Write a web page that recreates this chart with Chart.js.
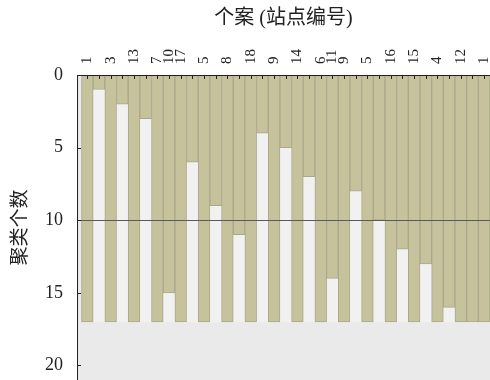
<!DOCTYPE html>
<html>
<head>
<meta charset="utf-8">
<script src="https://cdn.jsdelivr.net/npm/chart.js@4.4.1/dist/chart.umd.min.js"></script>
<style>
  html, body { margin: 0; padding: 0; background: #ffffff; }
  #c { display: block; }
</style>
</head>
<body>
<canvas id="c" width="490" height="380"></canvas>
<script>
// Case labels (station numbers) in dendrogram order, one per case column
const caseLabels = ['1', '3', '13', '7', '17', '5', '8', '18', '9', '14', '6', '9', '5', '16', '15', '4', '12', '1'];
// Labels shown on the gap columns between neighbouring cases
const gapLabels = ['', '', '', '10', '', '', '', '', '', '', '11', '', '', '', '', '', ''];
// Number of clusters down to which each neighbouring pair stays joined
const joinLevels = [1, 2, 3, 15, 6, 9, 11, 4, 5, 7, 14, 8, 10, 12, 13, 16, 17];
// Deepest level of the icicle (number of cases - 1)
const caseDepth = 17;
const yTicks = [0, 5, 10, 15, 20];
const cutLevel = 10;

const serif = "'Liberation Serif', 'Times New Roman', 'Noto Sans CJK SC', serif";
const xLabelSize = 15;

// Interleave case columns and gap columns: case, gap, case, ..., case
const columnLabels = [];
const filledBars = [];
const openBars = [];
caseLabels.forEach((lab, i) => {
  columnLabels.push(lab);
  filledBars.push({ x: 2 * i, y: [0, caseDepth] });
  if (i < joinLevels.length) {
    columnLabels.push(gapLabels[i]);
    filledBars.push({ x: 2 * i + 1, y: [0, joinLevels[i]] });
    openBars.push({ x: 2 * i + 1, y: [joinLevels[i], caseDepth] });
  }
});

// keep the plot area flush with the canvas edges
function fixBox(size) {
  return s => {
    if (s.isHorizontal()) s.height = size; else s.width = size;
    s.paddingLeft = 0; s.paddingRight = 0; s.paddingTop = 0; s.paddingBottom = 0;
  };
}

const plotDecor = {
  id: 'plotDecor',
  beforeDraw(chart) {
    const { ctx, chartArea: a } = chart;
    ctx.save();
    ctx.fillStyle = '#eaeaea';
    ctx.fillRect(a.left, a.top, a.right - a.left, a.bottom - a.top);
    ctx.restore();
  },
  afterDatasetsDraw(chart) {
    const { ctx, chartArea: a, scales: { x, y } } = chart;
    ctx.save();
    // cut line at the chosen number of clusters
    ctx.strokeStyle = '#5a5a5a';
    ctx.lineWidth = 1;
    const yc = Math.round(y.getPixelForValue(cutLevel)) + 0.5;
    ctx.beginPath();
    ctx.moveTo(a.left, yc);
    ctx.lineTo(a.right, yc);
    ctx.stroke();
    // inward tick marks
    ctx.strokeStyle = '#222';
    ctx.beginPath();
    x.ticks.forEach(t => {
      const px = Math.round(x.getPixelForValue(t.value)) + 0.5;
      ctx.moveTo(px, a.top);
      ctx.lineTo(px, a.top + 4);
    });
    y.ticks.forEach(t => {
      const py = Math.round(y.getPixelForValue(t.value)) + 0.5;
      ctx.moveTo(a.left, py);
      ctx.lineTo(a.left + 4, py);
    });
    ctx.stroke();
    ctx.restore();
  }
};

new Chart(document.getElementById('c'), {
  type: 'bar',
  data: {
    datasets: [
      {
        data: filledBars,
        backgroundColor: '#c6c29c',
        borderColor: '#aba78b',
        borderWidth: 1,
        borderSkipped: false,
        grouped: false,
        barPercentage: 1,
        categoryPercentage: 1
      },
      {
        data: openBars,
        backgroundColor: '#f1f1f1',
        borderWidth: 0,
        grouped: false,
        barPercentage: 1,
        categoryPercentage: 1
      }
    ]
  },
  options: {
    responsive: false,
    animation: false,
    devicePixelRatio: 1,
    layout: { padding: 0 },
    plugins: { legend: { display: false }, tooltip: { enabled: false } },
    scales: {
      x: {
        type: 'linear',
        position: 'top',
        offset: false,
        min: -0.886,
        max: 34.5,
        afterBuildTicks: s => { s.ticks = columnLabels.map((_, i) => ({ value: i })); },
        afterFit: fixBox(75),
        grid: { display: true, offset: false, drawOnChartArea: false, drawTicks: false },
        border: { display: true, color: '#222', width: 1, z: 1 },
        ticks: {
          autoSkip: false,
          minRotation: 90,
          maxRotation: 90,
          padding: 11,
          labelOffset: xLabelSize * 1.2,
          color: '#222',
          font: { family: serif, size: xLabelSize },
          callback: v => columnLabels[v] ?? ''
        },
        title: {
          display: true,
          text: '个案 (站点编号)',
          color: '#222',
          font: { family: serif, size: 20 },
          padding: { top: 7, bottom: 0 }
        }
      },
      y: {
        type: 'linear',
        position: 'left',
        reverse: true,
        min: 0,
        max: 21,
        afterBuildTicks: s => { s.ticks = yTicks.map(v => ({ value: v })); },
        afterFit: fixBox(77),
        grid: { display: true, drawOnChartArea: false, drawTicks: false },
        border: { display: true, color: '#222', width: 1, z: 1 },
        ticks: {
          padding: 14,
          color: '#222',
          font: { family: serif, size: 18 }
        },
        title: {
          display: true,
          text: '聚类个数',
          color: '#222',
          font: { family: serif, size: 19 },
          padding: { top: 9.5, bottom: 0 }
        }
      }
    }
  },
  plugins: [plotDecor]
});
</script>
</body>
</html>
